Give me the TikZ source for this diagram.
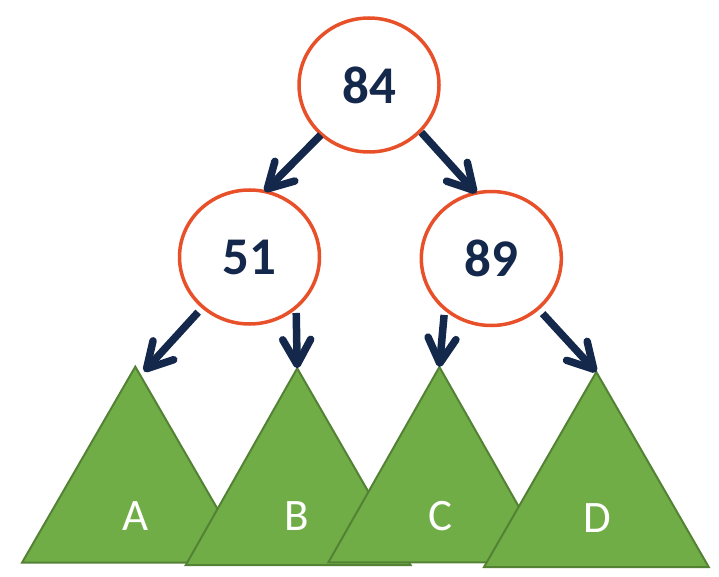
\documentclass[tikz,border=0pt]{standalone}
\usepackage{fontspec}
\setmainfont{Carlito}
\usetikzlibrary{shapes.geometric,arrows.meta}
\definecolor{navy}{HTML}{14284B}
\definecolor{ring}{HTML}{E8502A}
\definecolor{leaf}{HTML}{70AD47}
\definecolor{leafedge}{HTML}{548235}
\begin{document}
\begin{tikzpicture}[x=1pt,y=-1pt,
  keynode/.style={ellipse, draw=ring, line width=3.5pt, fill=white,
    minimum width=140pt, minimum height=134pt, inner sep=0pt, outer sep=0pt,
    text=navy, font=\bfseries\fontsize{53}{60}\selectfont},
  subtree/.style={fill=leaf, draw=leafedge, line width=2pt, line join=miter},
  sublabel/.style={text=white, font=\fontsize{45}{50}\selectfont, inner sep=0pt},
  link/.style={draw=navy, line width=7.5pt,
    -{Straight Barb[length=25pt,width=28pt,round]}},
]
\useasboundingbox (0,0) rectangle (719,577);

% subtrees
\draw[subtree] (135.3,366.7) coordinate (topA) -- (22,562.7) -- (248.6,562.7) -- cycle;
\node[sublabel] (A) at (135.3,516) {A};
\draw[subtree] (297.2,368.3) coordinate (topB) -- (185.8,565) -- (410.6,565) -- cycle;
\node[sublabel] (B) at (297.2,516) {B};
\draw[subtree] (439.4,367) coordinate (topC) -- (328.4,562.3) -- (550.4,562.3) -- cycle;
\node[sublabel] (C) at (440,516) {C};
\draw[subtree] (596.3,372) coordinate (topD) -- (484,567) -- (708.7,567) -- cycle;
\node[sublabel] (D) at (597,518) {D};
\coordinate (tipA) at (144,371.5);

% keys
\node[keynode] (n84) at (369,85) {84};
\node[keynode] (n51) at (249.5,257) {51};
\node[keynode] (n89) at (491.3,258.5) {89};

% links
\draw[link, shorten <=1pt] (n84.-134) -- (n51.77);
\draw[link, shorten <=2pt] (n84.-42) -- (n89.103);
\draw[link, shorten <=7pt] (n51.-133) -- (tipA);
\draw[link, shorten <=6pt] (n51.-47) -- (topB);
\draw[link, shorten <=6.5pt] (n89.-133) -- (topC);
\draw[link, shorten <=7pt] (n89.-47) -- (topD);
\end{tikzpicture}
\end{document}
